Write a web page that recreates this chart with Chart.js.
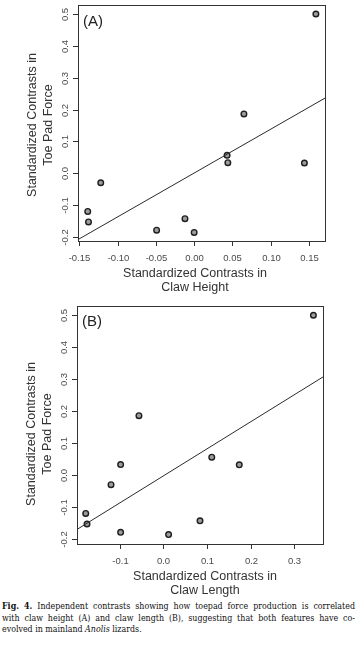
<!DOCTYPE html>
<html>
<head>
<meta charset="utf-8">
<script src="https://cdn.jsdelivr.net/npm/chart.js@4.4.0/dist/chart.umd.min.js"></script>
<style>
  html, body { margin: 0; padding: 0; background: #fff; }
  #page { position: relative; width: 358px; height: 651px; overflow: hidden; }
  canvas { position: absolute; left: 0; }
  #chartA { top: 0; }
  #chartB { top: 300px; }
  #caption {
    position: absolute; left: 2px; width: 353px; top: 601px;
    font-family: "DejaVu Serif", serif; font-stretch: condensed;
    font-size: 8.8px; line-height: 11.5px; color: #111;
  }
  #caption div { text-align: justify; text-align-last: justify; white-space: nowrap; }
  #caption div.last { text-align-last: left; }
</style>
</head>
<body>
<div id="page">
  <canvas id="chartA" width="358" height="300"></canvas>
  <canvas id="chartB" width="358" height="300"></canvas>
  <div id="caption">
    <div><b>Fig. 4.</b> Independent contrasts showing how toepad force production is correlated</div>
    <div>with claw height (A) and claw length (B), suggesting that both features have co-</div>
    <div class="last">evolved in mainland <i>Anolis</i> lizards.</div>
  </div>
</div>
<script>
/* ------------------------------
   DATA
------------------------------ */
const toePadForce = [0.500, 0.186, 0.056, 0.033, 0.032, -0.030, -0.120, -0.153, -0.143, -0.179, -0.186];
const clawHeight  = [0.159, 0.065, 0.043, 0.044, 0.144, -0.122, -0.139, -0.138, -0.012, -0.049, 0.000];
const clawLength  = [0.344, -0.056, 0.111, -0.098, 0.174, -0.120, -0.178, -0.175, 0.084, -0.098, 0.012];

// fitted lines, read at the box edges
const fitHeightX = [-0.152, 0.171];
const fitHeightY = [-0.209, 0.236];
const fitLengthX = [-0.198, 0.366];
const fitLengthY = [-0.170, 0.307];

const yTicks = [-0.2, -0.1, 0.0, 0.1, 0.2, 0.3, 0.4, 0.5];
const yTickLabels = ['-0.2', '-0.1', '0.0', '0.1', '0.2', '0.3', '0.4', '0.5'];
const heightTicks = [-0.15, -0.10, -0.05, 0.00, 0.05, 0.10, 0.15];
const heightTickLabels = ['-0.15', '-0.10', '-0.05', '0.00', '0.05', '0.10', '0.15'];
const lengthTicks = [-0.1, 0.0, 0.1, 0.2, 0.3];
const lengthTickLabels = ['-0.1', '0.0', '0.1', '0.2', '0.3'];

/* ------------------------------
   R-STYLE FRAME, TICKS, TITLES
------------------------------ */
const SANS = '"Liberation Sans", Arial, sans-serif';

const framePlugin = {
  id: 'frame',
  afterDraw(chart, args, o) {
    const { ctx, chartArea: a, scales: { x, y } } = chart;
    ctx.save();
    ctx.strokeStyle = '#333';
    ctx.lineWidth = 1;
    ctx.strokeRect(Math.round(a.left) + 0.5, Math.round(a.top) + 0.5,
      Math.round(a.right - a.left), Math.round(a.bottom - a.top));

    ctx.fillStyle = '#4a4a4a';
    ctx.font = '9.5px ' + SANS;
    ctx.textAlign = 'center';
    ctx.textBaseline = 'middle';

    o.xTicks.forEach((v, i) => {
      const px = Math.round(x.getPixelForValue(v)) + 0.5;
      ctx.beginPath();
      ctx.moveTo(px, Math.round(a.bottom));
      ctx.lineTo(px, Math.round(a.bottom) + 5);
      ctx.stroke();
      ctx.fillText(o.xLabels[i], px, a.bottom + 17);
    });

    o.yTicks.forEach((v, i) => {
      const py = Math.round(y.getPixelForValue(v)) + 0.5;
      ctx.beginPath();
      ctx.moveTo(Math.round(a.left) - 5, py);
      ctx.lineTo(Math.round(a.left), py);
      ctx.stroke();
      ctx.save();
      ctx.translate(a.left - 13, py);
      ctx.rotate(-Math.PI / 2);
      ctx.fillText(o.yLabels[i], 0, 0);
      ctx.restore();
    });

    // axis titles
    ctx.fillStyle = '#333';
    ctx.font = '12.5px ' + SANS;
    ctx.fillText(o.xTitle[0], o.xTitleX, a.bottom + 33);
    ctx.fillText(o.xTitle[1], o.xTitleX, a.bottom + 46.5);

    ctx.save();
    ctx.translate(o.yTitleX[0], o.yTitleY);
    ctx.rotate(-Math.PI / 2);
    ctx.fillText(o.yTitle[0], 0, 0);
    ctx.restore();
    ctx.save();
    ctx.translate(o.yTitleX[1], o.yTitleY);
    ctx.rotate(-Math.PI / 2);
    ctx.fillText(o.yTitle[1], 0, 0);
    ctx.restore();

    // panel letter
    ctx.fillStyle = '#222';
    ctx.font = '15px ' + SANS;
    ctx.textAlign = 'left';
    ctx.fillText(o.panel, a.left + 5, a.top + 16);
    ctx.restore();
  }
};

function makePanel(canvasId, xs, fitX, fitY, xRange, yRange, padding, frame) {
  const points = xs.map((v, i) => ({ x: v, y: toePadForce[i] }));
  const fit = fitX.map((v, i) => ({ x: v, y: fitY[i] }));
  return new Chart(document.getElementById(canvasId), {
    type: 'scatter',
    data: {
      datasets: [
        {
          type: 'line',
          data: fit,
          borderColor: '#2a2a2a',
          borderWidth: 1,
          pointRadius: 0,
          fill: false
        },
        {
          data: points,
          backgroundColor: '#9c9c9c',
          borderColor: '#1e1e1e',
          borderWidth: 1.4,
          pointRadius: 2.8
        }
      ]
    },
    options: {
      responsive: false,
      animation: false,
      layout: { padding: padding },
      plugins: { legend: { display: false }, tooltip: { enabled: false }, frame: frame },
      scales: {
        x: { type: 'linear', min: xRange[0], max: xRange[1], display: false },
        y: { type: 'linear', min: yRange[0], max: yRange[1], display: false }
      }
    },
    plugins: [framePlugin]
  });
}

/* ------------------------------
   PANEL A: CLAW HEIGHT
------------------------------ */
makePanel('chartA', clawHeight, fitHeightX, fitHeightY,
  [-0.1517, 0.1709], [-0.213, 0.527],
  { left: 78, top: 3, right: 33, bottom: 59 },
  {
    panel: '(A)',
    xTicks: heightTicks, xLabels: heightTickLabels,
    yTicks: yTicks, yLabels: yTickLabels,
    xTitle: ['Standardized Contrasts in', 'Claw Height'], xTitleX: 195,
    yTitle: ['Standardized Contrasts in', 'Toe Pad Force'], yTitleX: [33, 49], yTitleY: 125
  });

/* ------------------------------
   PANEL B: CLAW LENGTH
------------------------------ */
makePanel('chartB', clawLength, fitLengthX, fitLengthY,
  [-0.198, 0.366], [-0.2156, 0.529],
  { left: 77, top: 6, right: 35, bottom: 56 },
  {
    panel: '(B)',
    xTicks: lengthTicks, xLabels: lengthTickLabels,
    yTicks: yTicks, yLabels: yTickLabels,
    xTitle: ['Standardized Contrasts in', 'Claw Length'], xTitleX: 205,
    yTitle: ['Standardized Contrasts in', 'Toe Pad Force'], yTitleX: [32, 48], yTitleY: 134
  });
</script>
</body>
</html>
